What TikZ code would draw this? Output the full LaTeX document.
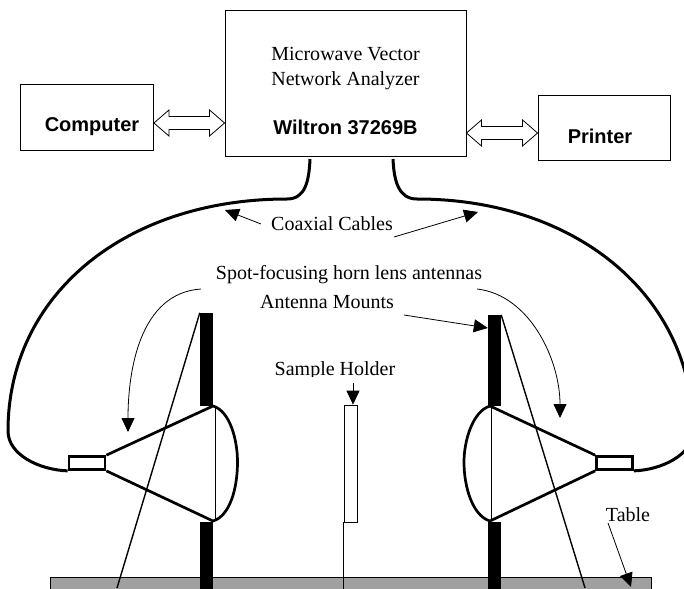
\documentclass[tikz,border=0pt]{standalone}
\usepackage{fontspec}
\setmainfont{Liberation Serif}
\newfontfamily\arialfont{Liberation Sans}
\definecolor{tablegray}{RGB}{160,160,160}
\usetikzlibrary{calc, positioning, arrows.meta}

\begin{document}
\begin{tikzpicture}[
    x=1pt, y=-1pt,
    box/.style={draw, line width=0.9pt, inner sep=0pt},
    label/.style={font=\fontsize{20}{22}\selectfont, align=center, inner sep=0pt},
    bold/.style={font=\arialfont\bfseries\fontsize{20}{22}\selectfont, inner sep=0pt},
    hollowlink/.style={draw, line width=0.8pt, to path={(\tikztostart) -- ++(15,-13) -- ++(0,6.5)
      -- ($(\tikztotarget)+(-15,-6.5)$) -- ++(0,-6.5) -- (\tikztotarget) -- ++(-15,13) -- ++(0,-6.5)
      -- ($(\tikztostart)+(15,6.5)$) -- ++(0,6.5) -- (\tikztostart)}},
    cable/.style={line width=3pt},
    horn/.style={line width=2.7pt},
    thin line/.style={line width=0.8pt},
    arrow/.style={-{Triangle[length=14pt, width=13pt]}, line width=0.8pt},
    mount/.style={fill=black, minimum width=13pt, inner sep=0pt},
  ]
    \useasboundingbox (0,0) rectangle (684,588);

    % instruments
    \node[box, minimum width=241pt, minimum height=146pt] (vna) at (345.5,83) {};
    \node[box, minimum width=133pt, minimum height=66pt] (computer) at (87,117) {};
    \node[box, minimum width=132pt, minimum height=65pt] (printer) at (604,127.5) {};
    \node[label] (vnaone) at (345.5,54) {Microwave Vector};
    \node[label] (vnatwo) at (345.5,81) {Network Analyzer};
    \node[bold] (vnathree) at (345.5,127) {Wiltron 37269B};
    \node[bold] (computertext) at (92,127) {Computer};
    \node[bold] (printertext) at (600,136) {Printer};
    \draw[hollowlink] (computer.east |- 0,123) to (vna.west |- 0,123);
    \draw[hollowlink] (vna.east |- 0,133) to (printer.west |- 0,133);

    % table and supports
    \node[draw, fill=tablegray, line width=0.7pt, minimum width=601pt, minimum height=20pt, inner sep=0pt] (table) at (350.5,587) {};
    \node[mount, minimum height=93pt] (mountLup) at (206.5,359.5) {};
    \node[mount, minimum height=70pt] (mountLlow) at (206.5,557) {};
    \node[mount, minimum height=91pt] (mountRup) at (494.5,360.5) {};
    \node[mount, minimum height=70pt] (mountRlow) at (494.5,557) {};
    \node[draw, fill=white, line width=0.7pt, minimum width=13pt, minimum height=117pt, inner sep=0pt] (holder) at (350.5,463.5) {};
    \draw[line width=0.7pt] (holder.south west) -- (holder.south west |- table.south);

    % horns
    \node[draw, horn, fill=white, minimum width=36pt, minimum height=13pt, inner sep=0pt] (feedL) at (87,463) {};
    \node[draw, horn, fill=white, minimum width=36pt, minimum height=13pt, inner sep=0pt] (feedR) at (614.5,463) {};
    \coordinate (lensLtop) at (213,406);
    \coordinate (lensLlow) at (213,521);
    \coordinate (lensRtop) at (490,406);
    \coordinate (lensRlow) at (490,521);
    \draw[horn] (feedL.north east) -- (lensLtop) .. controls (230,411) and (237.5,440) .. (237.5,462)
      .. controls (237.5,488) and (230,516) .. (lensLlow) -- (feedL.south east);
    \draw[horn] (feedR.north west) -- (lensRtop) .. controls (473,411) and (464,440) .. (464,462)
      .. controls (464,488) and (473,516) .. (lensRlow) -- (feedR.south west);
    \draw[thin line] (215,406) -- (215,521);
    \draw[thin line] (491,406) -- (491,521);

    % struts
    \coordinate (strutLfoot) at (117,588);
    \coordinate (strutRfoot) at (585,588);
    \draw[line width=1.4pt] (mountLup.north west) -- (strutLfoot);
    \draw[line width=1.4pt] (mountRup.north east) -- (strutRfoot);

    % cables
    \coordinate (cableLtop) at (310,159);
    \coordinate (cableRtop) at (393,159);
    \draw[cable] (cableLtop) .. controls (309,182) and (305,199) .. (287,199)
      .. controls (125,199) and (8,295) .. (8,431)
      .. controls (8,455) and (40,470) .. (feedL.south west);
    \draw[cable] (cableRtop) .. controls (394,182) and (399,199) .. (417,199)
      .. controls (575,199) and (693,295) .. (693,431)
      .. controls (693,455) and (661,470) .. (feedR.south east);

    % labels and their pointers
    \node[label, inner xsep=10pt] (coax) at (332,224) {Coaxial Cables};
    \node[label] (spot) at (349,275) {Spot-focusing horn lens antennas};
    \node[label] (mounts) at (327,302) {Antenna Mounts};
    \begin{scope}
      \clip (250,350) rectangle (420,376);
      \node[label] (sample) at (335,371) {Sample Holder};
    \end{scope}
    \node[label] (tabletext) at (628,515) {Table};
    \coordinate (spotL) at (201,289);
    \coordinate (spotR) at (477,289);
    \coordinate (coaxR) at (394,237);
    \draw[arrow] (coax.west) -- (225,210);
    \draw[arrow] (coaxR) -- (478,212);
    \draw[arrow] (spotL) .. controls (140,293) and (128,370) .. (128,432);
    \draw[arrow] (spotR) .. controls (530,295) and (560,360) .. (560,418);
    \draw[arrow] (404,315) -- (mountRup.west |- 0,328);
    \draw[arrow] (353,383) -- (holder.north -| 353,0);
    \draw[arrow] (608,523) -- (631,587);
\end{tikzpicture}
\end{document}
